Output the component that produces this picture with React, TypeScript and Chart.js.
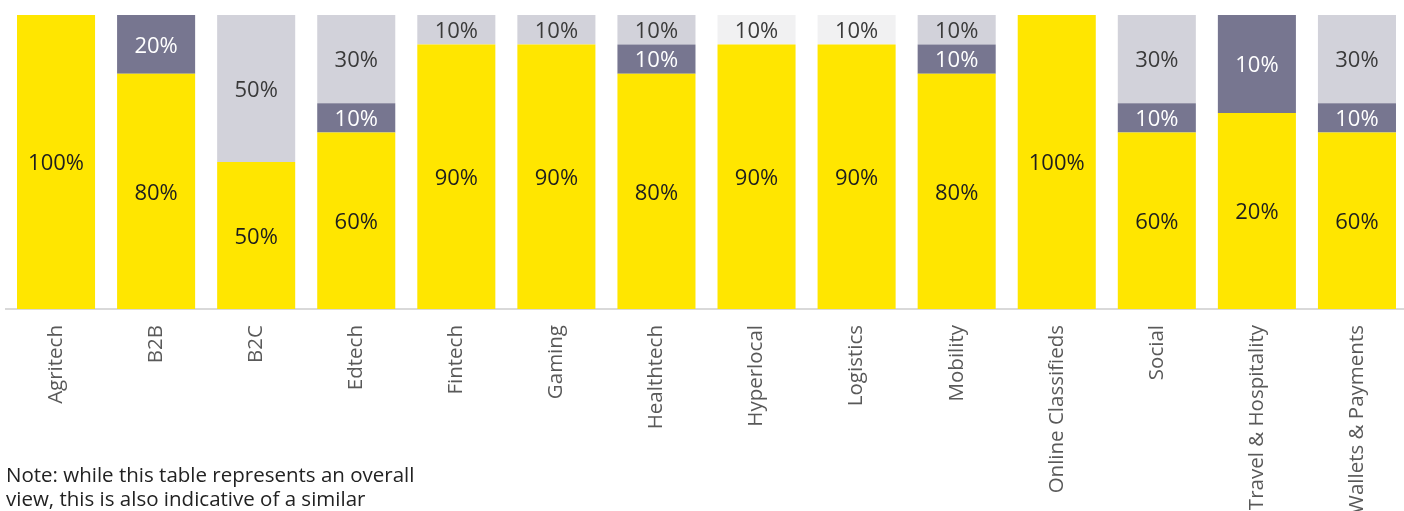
import React, { useEffect, useRef } from "react";
import { Chart, registerables } from "chart.js";

Chart.register(...registerables);

const categories = [
  "Agritech", "B2B", "B2C", "Edtech", "Fintech", "Gaming", "Healthtech",
  "Hyperlocal", "Logistics", "Mobility", "Online Classifieds", "Social",
  "Travel & Hospitality", "Wallets & Payments",
];

const yellowValues = [100, 80, 50, 60, 90, 90, 80, 90, 90, 80, 100, 60, 66.7, 60];
const darkValues = [0, 20, 0, 10, 0, 0, 10, 0, 0, 10, 0, 10, 33.3, 10];
const lightValues = [0, 0, 50, 30, 10, 10, 10, 0, 0, 10, 0, 30, 0, 30];
const paleValues = [0, 0, 0, 0, 0, 0, 0, 10, 10, 0, 0, 0, 0, 0];

const yellowLabels = ["100%", "80%", "50%", "60%", "90%", "90%", "80%", "90%", "90%", "80%", "100%", "60%", "20%", "60%"];
const darkLabels = ["", "20%", "", "10%", "", "", "10%", "", "", "10%", "", "10%", "10%", "10%"];
const lightLabels = ["", "", "50%", "30%", "10%", "10%", "10%", "", "", "10%", "", "30%", "", "30%"];
const paleLabels = ["", "", "", "", "", "", "", "10%", "10%", "", "", "", "", ""];

const FONT = "'Open Sans', 'DejaVu Sans', sans-serif";

const segmentLabels = {
  id: "segmentLabels",
  afterDatasetsDraw(chart: any) {
    const ctx = chart.ctx;
    ctx.save();
    ctx.font = `22px ${FONT}`;
    ctx.textAlign = "center";
    ctx.textBaseline = "middle";
    chart.data.datasets.forEach((ds: any, di: number) => {
      const meta = chart.getDatasetMeta(di);
      meta.data.forEach((bar: any, i: number) => {
        const txt = ds.segLabels[i];
        if (!txt) return;
        const mid = (bar.y + bar.base) / 2;
        ctx.fillStyle = ds.labelColor;
        ctx.fillText(txt, bar.x, mid + 2);
      });
    });
    ctx.restore();
  },
};

export default function App() {
  const ref = useRef<HTMLCanvasElement | null>(null);

  useEffect(() => {
    if (!ref.current) return;
    const chart = new Chart(ref.current, {
      type: "bar",
      data: {
        labels: categories,
        datasets: [
          { label: "Yellow", data: yellowValues, backgroundColor: "#FFE600", segLabels: yellowLabels, labelColor: "#1e1e1e" } as any,
          { label: "Dark", data: darkValues, backgroundColor: "#777690", segLabels: darkLabels, labelColor: "#ffffff" } as any,
          { label: "Light", data: lightValues, backgroundColor: "#D2D2DA", segLabels: lightLabels, labelColor: "#3a3a3a" } as any,
          { label: "Pale", data: paleValues, backgroundColor: "#F1F1F2", segLabels: paleLabels, labelColor: "#3a3a3a" } as any,
        ],
      },
      options: {
        animation: false,
        responsive: false,
        maintainAspectRatio: false,
        layout: { padding: { top: 15, left: 6, right: 13, bottom: 0 } },
        datasets: { bar: { categoryPercentage: 1, barPercentage: 0.78, borderWidth: 0 } },
        plugins: { legend: { display: false }, tooltip: { enabled: false } },
        scales: {
          x: {
            stacked: true,
            grid: { display: false },
            border: { display: true, color: "#d9d9d9", width: 2 },
            ticks: {
              minRotation: 90,
              maxRotation: 90,
              autoSkip: false,
              padding: 8,
              color: "#595959",
              font: { family: FONT, size: 20.5 },
            },
            afterFit: (s: any) => { s.height = 301; },
          },
          y: {
            stacked: true,
            display: false,
            min: 0,
            max: 100,
          },
        },
      },
      plugins: [segmentLabels],
    });
    return () => chart.destroy();
  }, []);

  return (
    <div style={{ position: "fixed", left: 0, top: 0, width: 1404, height: 511, overflow: "hidden", background: "#fff" }}>
      <canvas ref={ref} width={1420} height={610} style={{ position: "absolute", left: 0, top: 0, width: 1420, height: 610 }} />
      <div style={{ position: "absolute", left: 6, top: 462, fontFamily: FONT, fontSize: 20.5, lineHeight: "24px", color: "#222", whiteSpace: "nowrap" }}>
        Note: while this table represents an overall<br />
        view, this is also indicative of a similar
      </div>
    </div>
  );
}
